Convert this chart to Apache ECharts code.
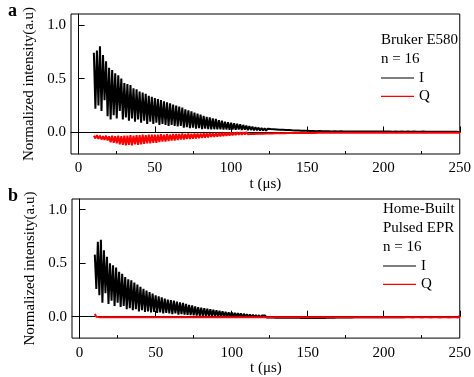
<!DOCTYPE html>
<html><head><meta charset="utf-8">
<script src="https://cdn.jsdelivr.net/npm/echarts@6/dist/echarts.min.js"></script>
<style>html,body{margin:0;padding:0;background:#fff}#c{width:474px;height:377px}</style>
</head><body><div id="c"></div>
<script>
// time of first sample and sample step (µs)
const t0 = 10, dt = 1;
const xTicks = [0, 50, 100, 150, 200, 250];
const xMinorTicks = [25, 75, 125, 175, 225];
const yTicks = [0, 0.5, 1.0];

// Panel a (Bruker E580), I channel, t = 10..250
const iA = [
0.74,0.22,0.76,0.25,0.80,0.20,0.72,0.30,0.66,0.15,
0.60,0.12,0.58,0.16,0.55,0.13,0.53,0.20,0.50,0.12,
0.46,0.14,0.45,0.11,0.44,0.13,0.41,0.10,0.40,0.12,
0.38,0.09,0.37,0.11,0.36,0.08,0.34,0.10,0.33,0.08,
0.32,0.09,0.31,0.07,0.30,0.08,0.29,0.07,0.28,0.06,
0.27,0.07,0.26,0.06,0.25,0.055,0.24,0.06,0.23,0.045,
0.215,0.05,0.205,0.04,0.195,0.045,0.185,0.035,0.175,0.04,
0.165,0.03,0.155,0.035,0.145,0.03,0.14,0.028,0.13,0.03,
0.125,0.028,0.115,0.03,0.11,0.027,0.10,0.028,0.095,0.025,
0.09,0.028,0.085,0.025,0.08,0.027,0.075,0.024,0.07,0.025,
0.065,0.022,0.06,0.023,0.055,0.02,0.05,0.021,0.045,0.018,
0.042,0.019,0.038,0.016,0.035,0.017,0.032,0.015,0.03,0.014,
0.028,0.013,0.026,0.012,0.025,0.011,0.023,0.01,0.022,0.011,
0.02,0.009,0.019,0.01,0.018,0.008,0.017,0.009,0.016,0.007,
0.015,0.006,0.014,0.007,0.013,0.005,0.012,0.006,0.013,0.005,
0.012,0.004,0.011,0.005,0.012,0.004,0.01,0.005,0.011,0.003,
0.01,0.004,0.011,0.003,0.01,0.004,0.009,0.003,0.01,0.004,
0.009,0.003,0.01,0.002,0.009,0.003,0.01,0.002,0.008,0.003,
0.009,0.002,0.008,0.003,0.009,0.002,0.008,0.001,0.009,0.002,
0.008,0.002,0.009,0.001,0.008,0.002,0.007,0.001,0.008,0.002,
0.007,0.001,0.008,0.002,0.007,0.001,0.008,0.0,0.007,0.001,
0.008,0.001,0.007,0.0,0.007,0.001,0.008,0.0,0.007,0.001,
0.006,0.0,0.007,0.001,0.006,0.0,0.007,-0.001,0.006,0.0,
0.007,0.0,0.006,-0.001,0.006,0.0,0.007,-0.001,0.006,0.0,
0.005];

// Panel a, Q channel
const qA = [
-0.03,-0.055,-0.025,-0.06,-0.03,-0.065,-0.035,-0.07,-0.03,-0.075,
-0.035,-0.09,-0.03,-0.095,-0.035,-0.10,-0.03,-0.11,-0.035,-0.115,
-0.03,-0.12,-0.03,-0.115,-0.025,-0.12,-0.03,-0.11,-0.025,-0.115,
-0.025,-0.11,-0.02,-0.105,-0.025,-0.10,-0.02,-0.10,-0.02,-0.095,
-0.02,-0.095,-0.02,-0.09,-0.015,-0.085,-0.02,-0.085,-0.015,-0.08,
-0.02,-0.075,-0.015,-0.075,-0.015,-0.07,-0.015,-0.065,-0.01,-0.065,
-0.015,-0.06,-0.01,-0.06,-0.012,-0.058,-0.01,-0.055,-0.01,-0.052,
-0.01,-0.05,-0.008,-0.048,-0.008,-0.045,-0.006,-0.042,-0.006,-0.04,
-0.005,-0.038,-0.004,-0.035,-0.004,-0.033,-0.002,-0.03,-0.002,-0.028,
0.0,-0.026,0.0,-0.024,0.002,-0.022,0.001,-0.02,0.002,-0.018,
0.003,-0.016,0.002,-0.015,0.003,-0.014,0.002,-0.013,0.003,-0.012,
0.002,-0.011,0.003,-0.01,0.002,-0.009,0.003,-0.009,0.002,-0.008,
0.003,-0.008,0.002,-0.007,0.003,-0.007,0.002,-0.006,0.003,-0.006,
0.003,-0.005,0.002,-0.005,0.003,-0.005,0.002,-0.004,0.003,-0.004,
0.003,-0.004,0.004,-0.003,0.003,-0.004,0.004,-0.003,0.003,-0.003,
0.004,-0.003,0.003,-0.002,0.004,-0.003,0.003,-0.002,0.004,-0.003,
0.003,-0.002,0.004,-0.003,0.003,-0.002,0.004,-0.002,0.003,-0.003,
0.004,-0.002,0.003,-0.003,0.004,-0.002,0.003,-0.002,0.004,-0.003,
0.003,-0.002,0.004,-0.002,0.003,-0.003,0.004,-0.002,0.003,-0.002,
0.004,-0.003,0.003,-0.002,0.004,-0.002,0.003,-0.003,0.004,-0.002,
0.003,-0.002,0.004,-0.003,0.003,-0.002,0.004,-0.002,0.003,-0.003,
0.004,-0.002,0.003,-0.002,0.004,-0.003,0.003,-0.002,0.004,-0.002,
0.003,-0.003,0.004,-0.002,0.003,-0.002,0.004,-0.003,0.003,-0.002,
0.004,-0.002,0.003,-0.003,0.004,-0.002,0.003,-0.002,0.004,-0.003,
0.002];

// Panel b (Home-Built Pulsed EPR), I channel
const iB = [
0.58,0.26,0.70,0.20,0.72,0.13,0.62,0.22,0.56,0.12,
0.50,0.15,0.48,0.10,0.46,0.13,0.42,0.09,0.40,0.10,
0.37,0.07,0.35,0.08,0.34,0.06,0.32,0.07,0.30,0.05,
0.28,0.06,0.26,0.045,0.245,0.05,0.23,0.04,0.215,0.045,
0.20,0.035,0.19,0.04,0.18,0.03,0.17,0.035,0.16,0.03,
0.155,0.025,0.15,0.03,0.14,0.02,0.135,0.025,0.13,0.02,
0.12,0.018,0.11,0.015,0.105,0.012,0.095,0.01,0.09,0.008,
0.085,0.006,0.08,0.005,0.075,0.004,0.07,0.004,0.065,0.003,
0.06,0.003,0.055,0.002,0.05,0.002,0.046,0.0,0.042,0.001,
0.04,0.0,0.037,-0.002,0.034,0.0,0.03,-0.004,0.027,-0.002,
0.024,-0.005,0.021,-0.004,0.018,-0.006,0.016,-0.005,0.014,-0.007,
0.012,-0.006,0.011,-0.008,0.01,-0.007,0.009,-0.008,0.008,-0.009,
0.007,-0.008,0.006,-0.009,0.005,-0.008,0.005,-0.01,0.004,-0.009,
0.004,-0.01,0.003,-0.009,0.003,-0.011,0.002,-0.01,0.002,-0.011,
0.002,-0.01,0.001,-0.011,0.001,-0.012,0.0,-0.011,0.001,-0.01,
0.001,-0.011,0.002,-0.01,0.001,-0.009,0.002,-0.01,0.003,-0.008,
0.003,-0.008,0.004,-0.007,0.003,-0.008,0.004,-0.006,0.005,-0.007,
0.004,-0.006,0.005,-0.005,0.004,-0.006,0.005,-0.005,0.006,-0.004,
0.005,-0.005,0.006,-0.004,0.005,-0.005,0.006,-0.004,0.005,-0.004,
0.006,-0.004,0.005,-0.003,0.006,-0.004,0.005,-0.003,0.006,-0.004,
0.005,-0.003,0.006,-0.004,0.005,-0.003,0.006,-0.003,0.005,-0.004,
0.006,-0.003,0.005,-0.003,0.006,-0.004,0.005,-0.003,0.006,-0.003,
0.005,-0.004,0.006,-0.003,0.005,-0.003,0.006,-0.004,0.005,-0.003,
0.006,-0.003,0.005,-0.004,0.006,-0.003,0.005,-0.003,0.006,-0.004,
0.004];

// Panel b, Q channel
const qB = [
0.025,0.0,0.018,-0.004,0.012,-0.005,0.01,-0.006,0.009,-0.005,
0.008,-0.006,0.009,-0.005,0.007,-0.006,0.008,-0.004,0.009,-0.006,
0.007,-0.005,0.008,-0.006,0.009,-0.004,0.007,-0.005,0.008,-0.006,
0.009,-0.005,0.007,-0.004,0.008,-0.006,0.009,-0.005,0.007,-0.004,
0.008,-0.005,0.01,-0.004,0.007,-0.006,0.009,-0.005,0.008,-0.004,
0.012,-0.005,0.008,-0.004,0.014,-0.005,0.009,-0.006,0.011,-0.004,
0.008,-0.005,0.013,-0.004,0.009,-0.005,0.012,-0.006,0.008,-0.004,
0.009,-0.005,0.008,-0.004,0.01,-0.005,0.007,-0.006,0.009,-0.004,
0.008,-0.005,0.007,-0.004,0.009,-0.006,0.008,-0.005,0.007,-0.004,
0.008,-0.006,0.009,-0.005,0.007,-0.004,0.008,-0.005,0.009,-0.006,
0.007,-0.004,0.008,-0.005,0.009,-0.006,0.007,-0.005,0.008,-0.004,
0.009,-0.005,0.007,-0.006,0.008,-0.004,0.009,-0.005,0.007,-0.006,
0.008,-0.004,0.009,-0.005,0.007,-0.006,0.008,-0.005,0.009,-0.004,
0.007,-0.005,0.008,-0.006,0.009,-0.004,0.007,-0.005,0.008,-0.006,
0.009,-0.005,0.007,-0.004,0.008,-0.006,0.009,-0.005,0.007,-0.004,
0.008,-0.005,0.009,-0.006,0.007,-0.004,0.008,-0.005,0.009,-0.006,
0.007,-0.004,0.008,-0.005,0.01,-0.006,0.007,-0.005,0.008,-0.004,
0.009,-0.005,0.007,-0.006,0.008,-0.004,0.009,-0.005,0.007,-0.006,
0.008,-0.004,0.009,-0.005,0.007,-0.006,0.01,-0.005,0.009,-0.004,
0.007,-0.005,0.008,-0.006,0.009,-0.004,0.007,-0.005,0.008,-0.006,
0.009,-0.005,0.007,-0.004,0.008,-0.006,0.009,-0.005,0.007,-0.004,
0.008,-0.005,0.009,-0.006,0.007,-0.004,0.008,-0.005,0.009,-0.006,
0.007,-0.004,0.008,-0.005,0.009,-0.006,0.007,-0.005,0.008,-0.004,
0.009,-0.005,0.007,-0.006,0.008,-0.004,0.009,-0.005,0.007,-0.006,
0.006];

const FONT = '"Liberation Serif", "Times New Roman", serif';
const toXY = arr => arr.map((v, i) => [t0 + i * dt, v]);

function xAxes(gridIndex) {
  return [{
    type: 'value', gridIndex, min: -5, max: 250,
    name: 't (\u03bcs)', nameLocation: 'middle', nameGap: 17,
    nameTextStyle: { fontFamily: FONT, fontSize: 15, color: '#000', verticalAlign: 'top' },
    axisLine: { lineStyle: { color: '#000', width: 1 } },
    axisTick: { inside: true, length: 6, customValues: xTicks, lineStyle: { color: '#000' } },
    axisLabel: { customValues: xTicks, margin: 7, fontFamily: FONT, fontSize: 15, color: '#000' },
    splitLine: { show: false }
  }, {
    type: 'value', gridIndex, min: -5, max: 250, position: 'bottom',
    axisLine: { show: false },
    axisTick: { inside: true, length: 3, customValues: xMinorTicks, lineStyle: { color: '#000' } },
    axisLabel: { show: false },
    splitLine: { show: false }
  }];
}
function yAxis(gridIndex) {
  return {
    type: 'value', gridIndex, min: -0.2, max: 1.1,
    name: 'Normalized intensity(a.u)', nameLocation: 'middle', nameGap: 28,
    nameTextStyle: { fontFamily: FONT, fontSize: 15, color: '#000' },
    axisLine: { show: true, lineStyle: { color: '#000', width: 1 } },
    axisTick: { inside: true, length: 6, customValues: yTicks, lineStyle: { color: '#000' } },
    axisLabel: { customValues: yTicks, margin: 5, fontFamily: FONT, fontSize: 15, color: '#000',
      formatter: v => v.toFixed(1) },
    splitLine: { show: false }
  };
}
function line(name, data, xi, yi, color, width) {
  return { type: 'line', name, data: toXY(data), xAxisIndex: xi, yAxisIndex: yi,
    symbol: 'none', showSymbol: false, animation: false, silent: true,
    lineStyle: { color, width }, itemStyle: { color } };
}
function legend(left, top) {
  return { left, top, orient: 'vertical', padding: 0, itemGap: 0.3,
    icon: 'rect', itemWidth: 33, itemHeight: 1.2, selectedMode: false,
    data: ['I', 'Q'],
    textStyle: { fontFamily: FONT, fontSize: 15, color: '#000', lineHeight: 18 } };
}
function txt(text, x, y, extra) {
  return { type: 'text', x, y, silent: true,
    style: Object.assign({ text, font: '15px ' + FONT, fill: '#000', verticalAlign: 'middle' }, extra || {}) };
}

const chart = echarts.init(document.getElementById('c'), null, { renderer: 'canvas' });
chart.setOption({
  animation: false,
  backgroundColor: '#fff',
  grid: [
    { left: 71, right: 10.5, top: 14, height: 140, show: true, borderColor: '#000', borderWidth: 1 },
    { left: 72, right: 9, top: 199, height: 140, show: true, borderColor: '#000', borderWidth: 1 }
  ],
  xAxis: [...xAxes(0), ...xAxes(1)],
  yAxis: [yAxis(0), yAxis(1)],
  legend: [legend(381, 69), legend(383, 257)],
  series: [
    line('I', iA, 0, 0, '#000000', 2),
    line('Q', qA, 0, 0, '#ff0000', 2),
    line('I', iB, 2, 1, '#000000', 2),
    line('Q', qB, 2, 1, '#ff0000', 2)
  ],
  graphic: [
    txt('a', 8, 11, { font: 'bold 18px ' + FONT }),
    txt('b', 8, 196, { font: 'bold 18px ' + FONT }),
    txt('Bruker E580', 381, 40),
    txt('n = 16', 381, 59),
    txt('Home-Built', 383, 209),
    txt('Pulsed EPR', 383, 228),
    txt('n = 16', 383, 247)
  ]
});
</script></body></html>
